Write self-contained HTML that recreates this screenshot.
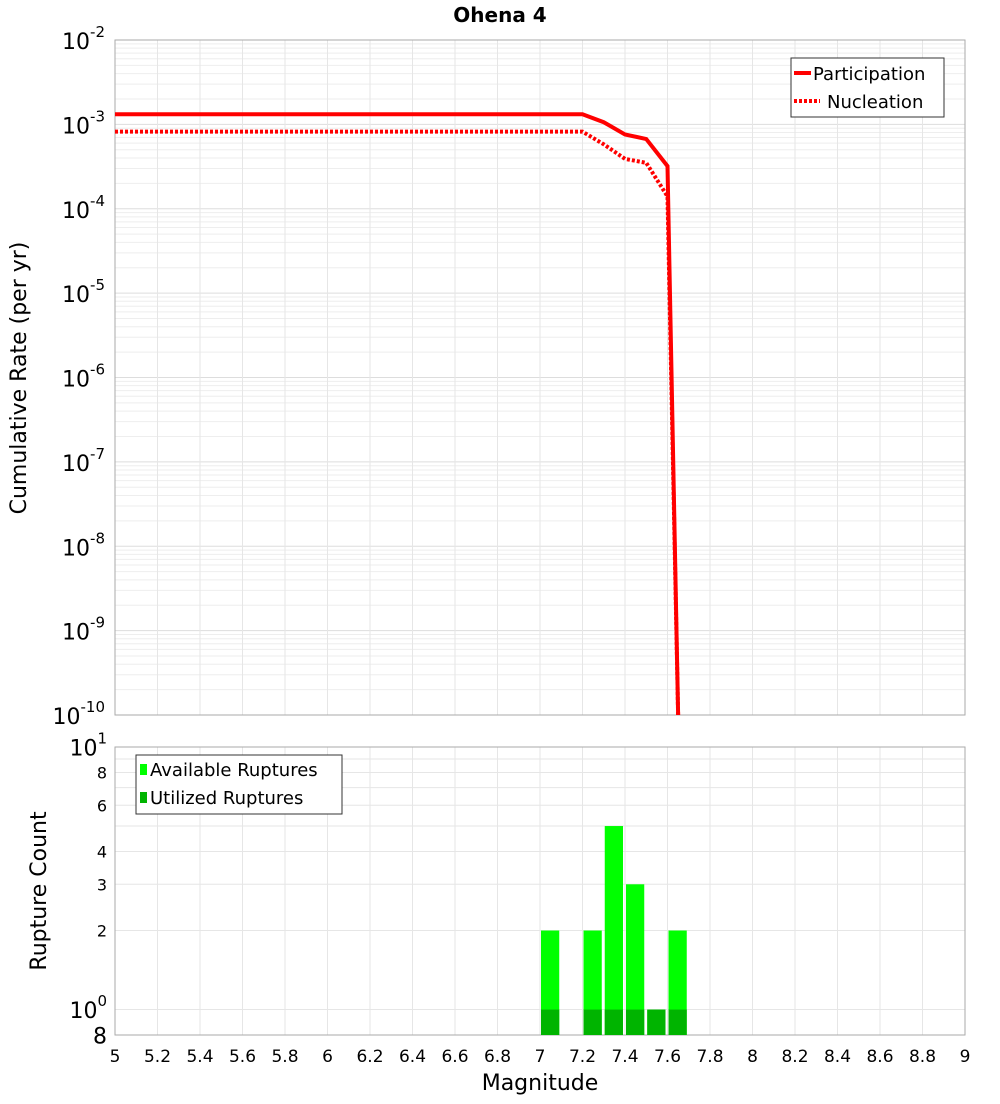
<!DOCTYPE html>
<html><head><meta charset="utf-8"><style>
body{margin:0;background:#fff;font-family:"DejaVu Sans","Liberation Sans",sans-serif}
</style></head><body>
<svg id="c" width="1000" height="1100" xmlns="http://www.w3.org/2000/svg" font-family="DejaVu Sans, Liberation Sans, sans-serif">
<text x="500" y="22" text-anchor="middle" font-size="20" font-weight="bold">Ohena 4</text>
<g id="topg"></g><g id="botg"></g>
</svg>
<script>
const mags=[5,7.2,7.3,7.4,7.5,7.6,7.65];
const partRate=[1.32e-3,1.32e-3,1.06e-3,7.6e-4,6.7e-4,3.2e-4,1e-10];
const nuclMags=[5,7.2,7.3,7.4,7.5,7.6,7.65];
const nuclRate=[8.2e-4,8.2e-4,5.8e-4,3.9e-4,3.5e-4,1.4e-4,1e-10];
const binMags=[7.0,7.2,7.3,7.4,7.5,7.6];
const availCounts=[2,2,5,3,1,2];
const usedCounts=[1,1,1,1,1,1];
const xTicks=[5,5.2,5.4,5.6,5.8,6,6.2,6.4,6.6,6.8,7,7.2,7.4,7.6,7.8,8,8.2,8.4,8.6,8.8,9];
const NS="http://www.w3.org/2000/svg";
const X0=115,X1=965;
const xs=m=>X0+(m-5)/4*(X1-X0);
const T0=40,T1=715;
const yt=v=>T0+(-2-Math.log10(v))/8*(T1-T0);
const B0=747,B1=1035;
const yb=v=>B0+(1-Math.log10(v))/(1-Math.log10(0.8))*(B1-B0);
function mk(p,tag,a,txt){const e=document.createElementNS(NS,tag);for(const k in a)e.setAttribute(k,a[k]);if(txt!==undefined)e.textContent=txt;p.appendChild(e);return e;}
const topG=document.getElementById('topg'),botG=document.getElementById('botg');
for(let d=-10;d<-2;d++)for(let k=1;k<10;k++){const y=yt(k*Math.pow(10,d));const g=mk(topG,'line',{x1:X0,x2:X1,y1:y,y2:y,stroke:k==1?'#ddd':'#eee','stroke-width':1});}
for(const t of xTicks){for(const [a,b] of [[T0,T1],[B0,B1]]){const g=mk(topG,'line',{x1:xs(t),x2:xs(t),y1:a,y2:b,stroke:'#e6e6e6'});}}
const f1=mk(topG,'rect',{x:X0,y:T0,width:X1-X0,height:T1-T0,fill:'none',stroke:'#aaa'});
for(let d=-2;d>=-10;d--){const y=yt(Math.pow(10,d));const t=mk(topG,'text',{x:105,y:y+9,'text-anchor':'end','font-size':22});t.innerHTML='10<tspan dy="-12" font-size="15">'+d+'</tspan>';}
const yl=mk(topG,'text',{x:26,y:378,'text-anchor':'middle','font-size':22,transform:'rotate(-90 26 378)'},'Cumulative Rate (per yr)');
const clip=mk(topG,'clipPath',{id:'cp'});mk(clip,'rect',{x:X0,y:T0,width:X1-X0,height:T1-T0});
const p1=mk(topG,'polyline',{points:mags.map((m,i)=>xs(m)+','+yt(partRate[i])).join(' '),fill:'none',stroke:'#f00','stroke-width':4,'clip-path':'url(#cp)'});
const p2=mk(topG,'polyline',{points:nuclMags.map((m,i)=>xs(m)+','+yt(nuclRate[i])).join(' '),fill:'none',stroke:'#f00','stroke-width':4,'stroke-dasharray':'3,2','clip-path':'url(#cp)'});
const lg=mk(topG,'g',{});
mk(lg,'rect',{x:791,y:58,width:153,height:59,fill:'#fff',stroke:'#333'});
mk(lg,'line',{x1:794,x2:811,y1:73,y2:73,stroke:'#f00','stroke-width':4});
mk(lg,'text',{x:813,y:80,'font-size':18},'Participation');
mk(lg,'line',{x1:794,x2:820,y1:101,y2:101,stroke:'#f00','stroke-width':4,'stroke-dasharray':'3,2'});
mk(lg,'text',{x:827,y:108,'font-size':18},'Nucleation');
for(const v of [1,2,3,4,5,6,7,8,9,10]){const y=yb(v);const g=mk(botG,'line',{x1:X0,x2:X1,y1:y,y2:y,stroke:'#e6e6e6'});}
const f2=mk(botG,'rect',{x:X0,y:B0,width:X1-X0,height:B1-B0,fill:'none',stroke:'#aaa'});
binMags.forEach((m,i)=>{const x=xs(m)+1,w=xs(m+0.1)-xs(m)-3;
const a=mk(botG,'rect',{x:x,y:yb(availCounts[i]),width:w,height:B1-yb(availCounts[i]),fill:'#00ff00'});
const u=mk(botG,'rect',{x:x,y:yb(usedCounts[i]),width:w,height:B1-yb(usedCounts[i]),fill:'#00b400'});});
[[10,'10','1',22],[8,'8','',16],[6,'6','',16],[4,'4','',16],[3,'3','',16],[2,'2','',16],[1,'10','0',22],[0.8,'8','',22]].forEach(([v,s,sup,fs])=>{const t=mk(botG,'text',{x:107,y:yb(v)+fs*0.38,'text-anchor':'end','font-size':fs});t.innerHTML=s+(sup?'<tspan dy="-12" font-size="15">'+sup+'</tspan>':'');});
for(const t of xTicks){const e=mk(botG,'text',{x:xs(t),y:1062,'text-anchor':'middle','font-size':17},String(t));}
const xl=mk(botG,'text',{x:540,y:1090,'text-anchor':'middle','font-size':22},'Magnitude');
const yl2=mk(botG,'text',{x:46,y:891,'text-anchor':'middle','font-size':22,transform:'rotate(-90 46 891)'},'Rupture Count');
const lg2=mk(botG,'g',{});
mk(lg2,'rect',{x:136,y:755,width:206,height:59,fill:'#fff',stroke:'#333'});
mk(lg2,'rect',{x:140,y:764,width:7,height:11,fill:'#00ff00'});
mk(lg2,'text',{x:150,y:776,'font-size':18},'Available Ruptures');
mk(lg2,'rect',{x:140,y:792,width:7,height:11,fill:'#00b400'});
mk(lg2,'text',{x:150,y:804,'font-size':18},'Utilized Ruptures');
</script>
</body></html>
